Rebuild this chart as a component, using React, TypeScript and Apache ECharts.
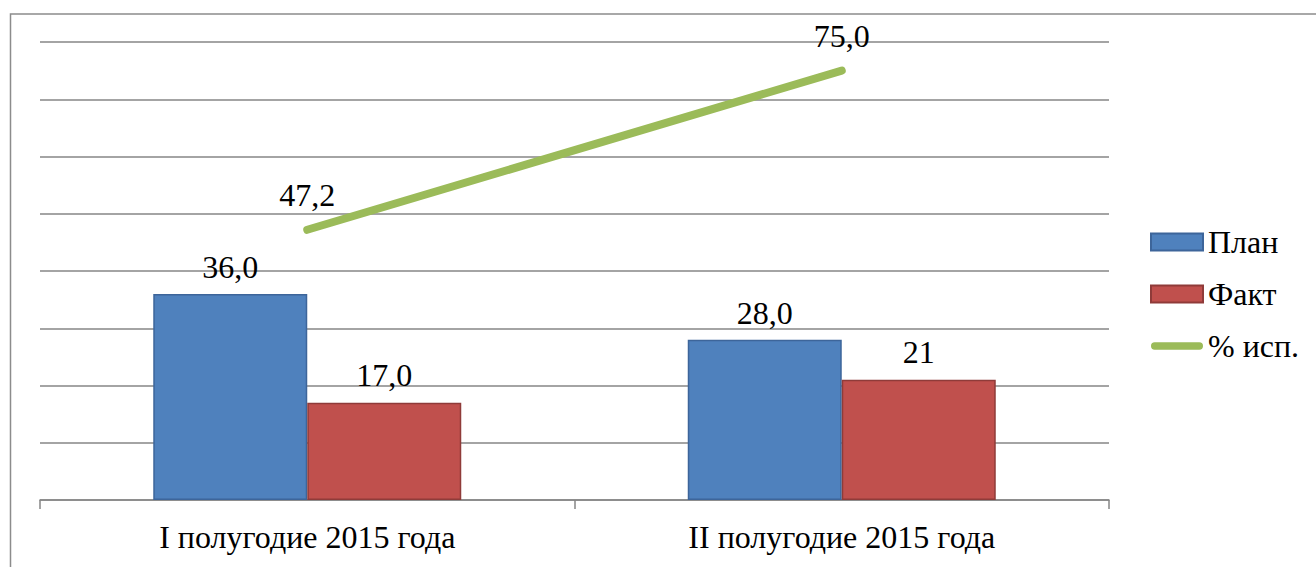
import React, { useEffect, useRef } from "react";
import * as echarts from "echarts";

const categories = ["I полугодие 2015 года", "II полугодие 2015 года"];
const planValues = [36.0, 28.0];
const planLabels = ["36,0", "28,0"];
const factValues = [17.0, 21];
const factLabels = ["17,0", "21"];
const pctValues = [47.2, 75.0];
const pctLabels = ["47,2", "75,0"];
const seriesNames = ["План", "Факт", "% исп."];

const FONT = "Liberation Serif, Times New Roman, serif";

export default function App() {
  const ref = useRef<HTMLDivElement>(null);
  useEffect(() => {
    document.body.style.margin = "0";
    const chart = echarts.init(ref.current!, null, { renderer: "svg" });
    const labelStyle = { fontFamily: FONT, fontSize: 32, color: "#000" };
    chart.setOption({
      animation: false,
      backgroundColor: "#fff",
      textStyle: { fontFamily: FONT },
      graphic: [
        {
          type: "rect",
          shape: { x: 10.5, y: 14, width: 1400, height: 700 },
          style: { fill: "none", stroke: "#8c8c8c", lineWidth: 1.5 },
          silent: true,
        },
      ],
      grid: { left: 40, right: 207, top: 42, bottom: 67 },
      legend: {
        orient: "vertical",
        left: 1150,
        top: 226,
        padding: 0,
        itemWidth: 52,
        itemHeight: 17,
        itemGap: 20,
        textStyle: { fontFamily: FONT, fontSize: 32, color: "#000" },
        data: [
          { name: seriesNames[0], icon: "rect" },
          { name: seriesNames[1], icon: "rect" },
          {
            name: seriesNames[2],
            icon: "path://M4,0 H52 A4,4 0 0 1 52,8 H4 A4,4 0 0 1 4,0 Z",
            itemStyle: { color: "#9bbb59", borderWidth: 0 },
          },
        ],
      },
      xAxis: {
        type: "category",
        data: categories,
        axisLine: { lineStyle: { color: "#868686", width: 1.5 } },
        axisTick: { show: true, length: 9, lineStyle: { color: "#868686", width: 1.5 } },
        axisLabel: { ...labelStyle, margin: 21 },
      },
      yAxis: {
        type: "value",
        min: 0,
        max: 80,
        interval: 10,
        axisLabel: { show: false },
        axisLine: { show: false },
        axisTick: { show: false },
        splitLine: { lineStyle: { color: "#868686", width: 1.5 } },
      },
      series: [
        {
          name: seriesNames[0],
          type: "bar",
          data: planValues,
          barWidth: 154,
          barGap: "0%",
          itemStyle: { color: "#4f81bd", borderColor: "#3d659a", borderWidth: 1.5 },
          label: {
            show: true,
            position: "top",
            distance: 11,
            ...labelStyle,
            formatter: (p: any) => planLabels[p.dataIndex],
          },
        },
        {
          name: seriesNames[1],
          type: "bar",
          data: factValues,
          barWidth: 154,
          barGap: "0%",
          itemStyle: { color: "#c0504d", borderColor: "#8f3b39", borderWidth: 1.5 },
          label: {
            show: true,
            position: "top",
            distance: 12,
            ...labelStyle,
            formatter: (p: any) => factLabels[p.dataIndex],
          },
        },
        {
          name: seriesNames[2],
          type: "line",
          data: pctValues,
          symbol: "circle",
          symbolSize: 1,
          itemStyle: { color: "#9bbb59" },
          lineStyle: { color: "#9bbb59", width: 8, cap: "round" },
          label: {
            show: true,
            position: "top",
            distance: 18,
            ...labelStyle,
            formatter: (p: any) => pctLabels[p.dataIndex],
          },
        },
      ],
    });
    return () => chart.dispose();
  }, []);
  return <div ref={ref} style={{ width: 1316, height: 567 }} />;
}
